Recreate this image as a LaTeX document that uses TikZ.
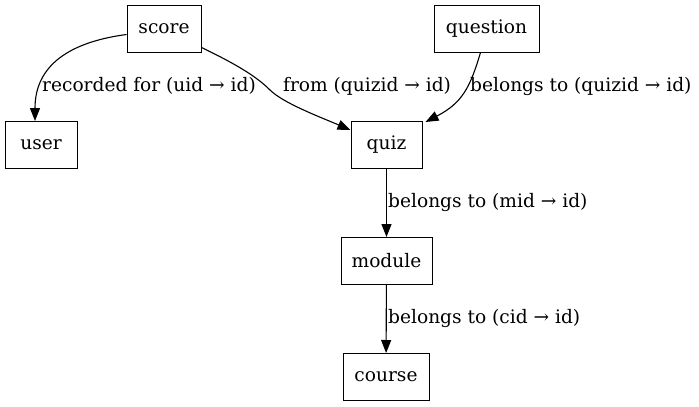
\documentclass[tikz,border=0pt]{standalone}
\usepackage{fontspec}
\setmainfont{DejaVu Serif}
\usetikzlibrary{arrows.meta}
\begin{document}
\begin{tikzpicture}[x=1pt,y=-1pt,
  box/.style={draw,line width=1pt,minimum height=47pt,inner sep=0pt,font=\fontsize{18.6}{21}\selectfont},
  lbl/.style={anchor=west,inner sep=0pt,font=\fontsize{18.6}{21}\selectfont},
  arr/.style={line width=1.1pt,-{Triangle[length=13pt,width=10pt]}}]
\useasboundingbox (0,0) rectangle (699,407);
\node[box,minimum width=74pt] (score) at (164,28.5) {score};
\node[box,minimum width=105pt] (question) at (486.5,28.5) {question};
\node[box,minimum width=72pt] (user) at (41,145) {user};
\node[box,minimum width=71pt] (quiz) at (386.5,145) {quiz};
\node[box,minimum width=91pt] (module) at (386.5,261) {module};
\node[box,minimum width=86pt] (course) at (386,377) {course};
\draw[arr] ([yshift=-6pt]score.west) .. controls (70,42) and (35,65) .. ([xshift=-6pt]user.north);
\draw[arr] ([yshift=-19pt]score.east) .. controls (240,66) and (258,78) .. (270,90)
  .. controls (283,103) and (320,117) .. ([yshift=15pt]quiz.west);
\draw[arr] ([xshift=-6pt]question.south) .. controls (470,88) and (462,103) .. ([xshift=3pt,yshift=-1pt]quiz.north east);
\draw[arr] (quiz) -- (module);
\draw[arr] (module) -- (course);
\node[lbl] (l1) at (42,86) {recorded for (uid → id)};
\node[lbl] (l2) at (283,86) {from (quizid → id)};
\node[lbl] (l3) at (470,86) {belongs to (quizid → id)};
\node[lbl] (l4) at (388,202) {belongs to (mid → id)};
\node[lbl] (l5) at (388,318) {belongs to (cid → id)};
\end{tikzpicture}
\end{document}
